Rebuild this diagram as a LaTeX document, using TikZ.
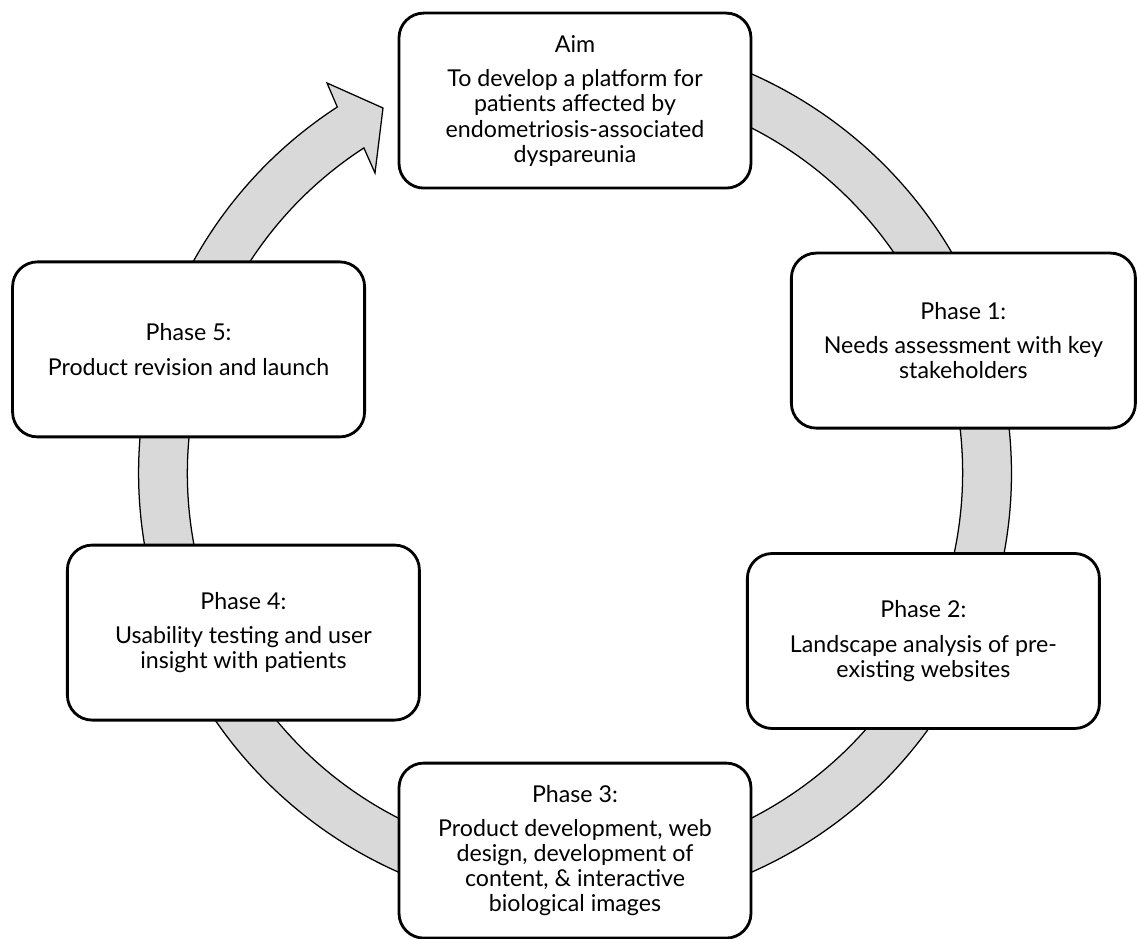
\documentclass[tikz,border=0pt]{standalone}
\usepackage{fontspec}
\setmainfont{Lato}
\definecolor{ringgray}{RGB}{217,217,217}
\begin{document}
\begin{tikzpicture}[
    phasebox/.style={draw=black, line width=2pt, fill=white, rounded corners=0.62cm,
      minimum width=8.8cm, minimum height=4.375cm, align=center, inner sep=0pt,
      font=\fontsize{16.5}{17.8}\selectfont},
    ringarrow/.style={fill=ringgray, draw=black, line width=0.9pt, line join=miter}
  ]
  \useasboundingbox (-14.375,-11.65) rectangle (14.05,11.825);

  % Ring arrow (tail hidden under the aim box)
  \draw[ringarrow] (100:10.91) arc[start angle=100, end angle=-237, radius=10.91]
    -- (-6.2,9.75) -- (-4.8,9.125) -- (-5.0,7.5)
    -- (123:9.69) arc[start angle=-237, end angle=100, radius=9.69] -- cycle;

  % Aim
  \node[phasebox] (aim) at (0,9.31)
    {Aim\\[7pt]To develop a platform for\\patients affected by\\endometriosis-associated\\dyspareunia};

  % Phases
  \node[phasebox, minimum width=8.6cm] (phase1) at (9.71,3.31)
    {Phase 1:\\[7pt]Needs assessment with key\\stakeholders};
  \node[phasebox] (phase2) at (8.71,-4.2)
    {Phase 2:\\[7pt]Landscape analysis of pre-\\existing websites};
  \node[phasebox] (phase3) at (0,-9.44)
    {Phase 3:\\[7pt]Product development, web\\design, development of\\content, \& interactive\\biological images};
  \node[phasebox] (phase4) at (-8.29,-3.99)
    {Phase 4:\\[7pt]Usability testing and user\\insight with patients};
  \node[phasebox] (phase5) at (-9.66,3.09)
    {Phase 5:\\[7pt]Product revision and launch};
\end{tikzpicture}
\end{document}
